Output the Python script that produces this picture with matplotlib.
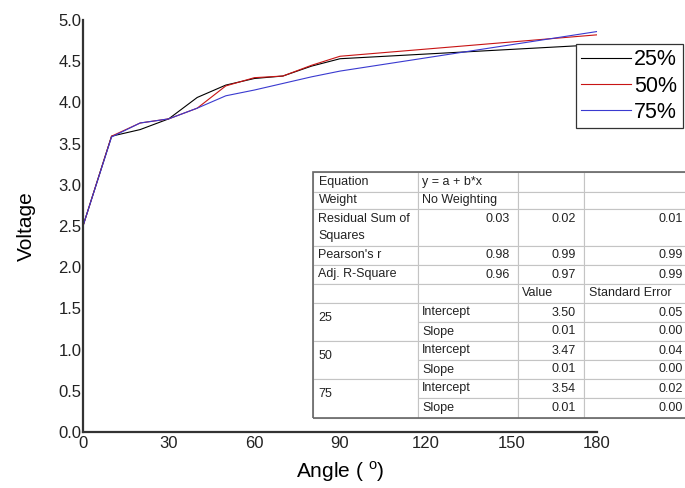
import matplotlib
matplotlib.use('Agg')
import matplotlib.pyplot as plt
from matplotlib.patches import Rectangle

plt.rcParams['font.family'] = ['Liberation Sans', 'DejaVu Sans']
plt.rcParams['mathtext.fontset'] = 'custom'
plt.rcParams['mathtext.rm'] = 'Liberation Sans'

# measured voltage per angle
angle = [0, 10, 20, 30, 40, 50, 60, 70, 80, 90, 180]
v25 = [2.50, 3.59, 3.67, 3.80, 4.06, 4.21, 4.29, 4.32, 4.44, 4.53, 4.70]
v50 = [2.50, 3.59, 3.75, 3.80, 3.93, 4.20, 4.30, 4.32, 4.45, 4.56, 4.82]
v75 = [2.50, 3.58, 3.75, 3.80, 3.93, 4.08, 4.15, 4.23, 4.31, 4.38, 4.86]
series_labels = ['25%', '50%', '75%']

x_ticks = [0, 30, 60, 90, 120, 150, 180]
y_ticks = [0.0, 0.5, 1.0, 1.5, 2.0, 2.5, 3.0, 3.5, 4.0, 4.5, 5.0]

# linear fit summary
equation = 'y = a + b*x'
weight = 'No Weighting'
rss = [0.03, 0.02, 0.01]
pearson_r = [0.98, 0.99, 0.99]
adj_r2 = [0.96, 0.97, 0.99]
groups = ['25', '50', '75']
intercept = [3.50, 3.47, 3.54]
intercept_se = [0.05, 0.04, 0.02]
slope = [0.01, 0.01, 0.01]
slope_se = [0.00, 0.00, 0.00]

fig = plt.figure(figsize=(6.85, 4.88), dpi=100)
ax = fig.add_axes([83 / 685, 56 / 488, 514 / 685, 412 / 488])

colors = ['#000000', '#c81414', '#3a3ad0']
for vals, lab, col in zip([v25, v50, v75], series_labels, colors):
    ax.plot(angle, vals, color=col, lw=0.8, label=lab)

ax.set_xlim(0, 180)
ax.set_ylim(0, 5)
ax.set_xticks(x_ticks)
ax.set_yticks(y_ticks)
ax.set_yticklabels(['%.1f' % v for v in y_ticks])
ax.tick_params(length=0, labelsize=12, colors='#222222')
ax.tick_params(axis='y', pad=1)
ax.tick_params(axis='x', pad=3)
for side in ['top', 'right']:
    ax.spines[side].set_visible(False)
for side in ['left', 'bottom']:
    ax.spines[side].set_linewidth(1.6)
    ax.spines[side].set_color('#333333')

ax.set_xlabel(r'Angle ( $^{\mathrm{o}}$)', fontsize=15, labelpad=6)
ax.set_ylabel('Voltage', fontsize=15, labelpad=16)

leg = ax.legend(loc='upper left', bbox_to_anchor=(576 / 685, 1 - 44 / 488),
                bbox_transform=fig.transFigure, fontsize=15.5, frameon=True,
                fancybox=False, framealpha=1, edgecolor='#333333',
                handlelength=2.3, handletextpad=0.15, labelspacing=0.24,
                borderpad=0.25, borderaxespad=0)
leg.get_frame().set_linewidth(0.9)
leg.set_zorder(10)

# table
ax_t = fig.add_axes([313 / 685, 70 / 488, 377 / 685, 246 / 488])
ax_t.axis('off')

rows = []
rows.append(['Equation', equation, '', ''])
rows.append(['Weight', weight, '', ''])
rows.append(['Residual Sum of\nSquares'] + ['%.2f\n ' % v for v in rss])
rows.append(["Pearson's r"] + ['%.2f' % v for v in pearson_r])
rows.append(['Adj. R-Square'] + ['%.2f' % v for v in adj_r2])
rows.append(['', '', 'Value', 'Standard Error'])
for g in range(len(groups)):
    rows.append(['', 'Intercept', '%.2f' % intercept[g], '%.2f' % intercept_se[g]])
    rows.append(['', 'Slope', '%.2f' % slope[g], '%.2f' % slope_se[g]])

col_px = [104.6, 100, 66, 106.4]
row_px = [20, 17, 37, 19, 19, 19, 19, 19, 19, 19, 19, 20]
left_pad_px = [5.5, 4.5, 4.5, 5]
right_pad_px = 7.5

tab = ax_t.table(cellText=rows, colWidths=[c / sum(col_px) for c in col_px],
                 cellLoc='left', bbox=[0, 0, 1, 1])
tab.auto_set_font_size(False)
tab.set_fontsize(9)

for (r, c), cell in tab.get_celld().items():
    cell.set_height(row_px[r] / sum(row_px))
    cell.set_edgecolor('#c4c4c4')
    cell.set_linewidth(0.8)
    cell.get_text().set_color('#222222')
    if r == 2:
        cell.get_text().set_linespacing(1.5)
    txt = rows[r][c]
    numeric = c >= 2 or (c == 1 and r in (2, 3, 4))
    if numeric and txt.strip() not in ('', 'Value', 'Standard Error'):
        cell.get_text().set_horizontalalignment('right')
        cell.PAD = right_pad_px / col_px[c]
    else:
        cell.PAD = left_pad_px[c] / col_px[c]
    if c == 0 and r >= 6:
        cell.visible_edges = 'LTR' if (r - 6) % 2 == 0 else 'LRB'

for g, name in enumerate(groups):
    cum = sum(row_px[:7 + 2 * g]) - 4
    ax_t.text(5.5 / sum(col_px), 1 - cum / sum(row_px), name, fontsize=9,
              color='#222222', va='center', ha='left', transform=ax_t.transAxes)

ax_t.add_patch(Rectangle((0, 0), 1, 1, transform=ax_t.transAxes, fill=False,
                         edgecolor='#666666', lw=1.2, zorder=5, clip_on=False))

fig.savefig('out.png', dpi=100)
